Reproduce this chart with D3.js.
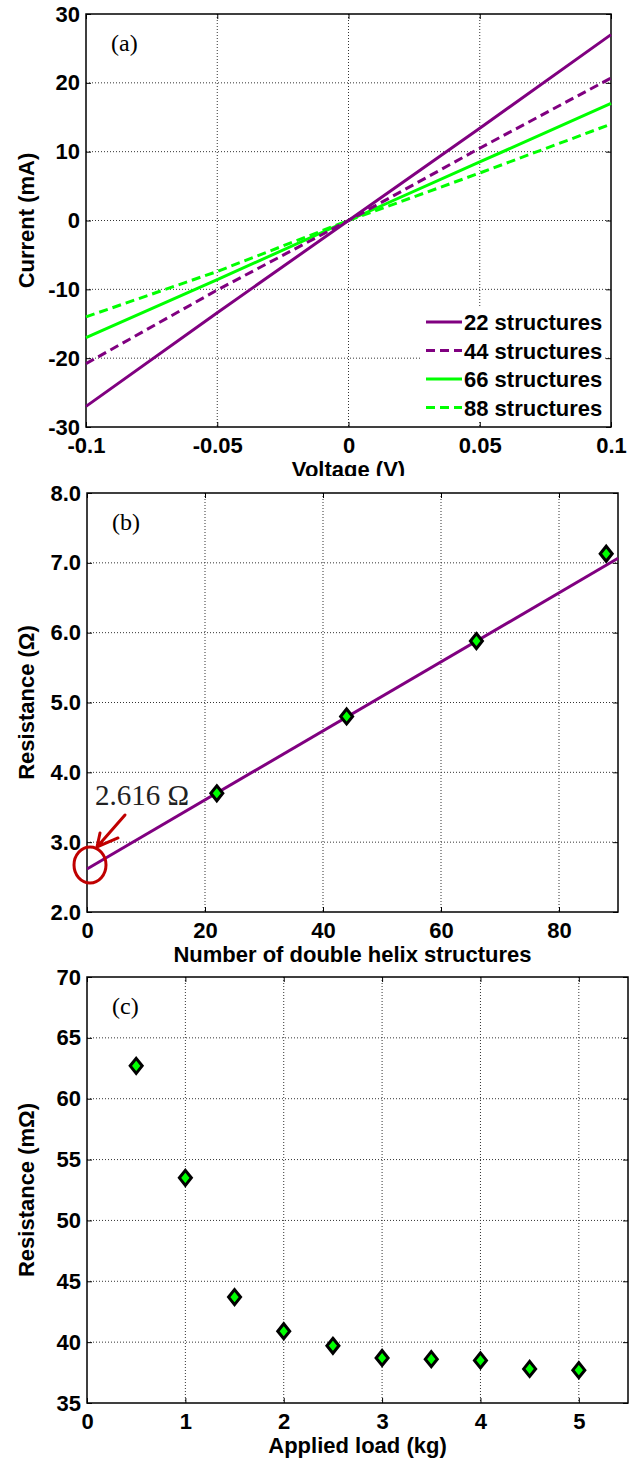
<!DOCTYPE html>
<html>
<head>
<meta charset="utf-8">
<script src="https://cdn.jsdelivr.net/npm/d3@7"></script>
<style>
  body { margin: 0; background: #fff; }
  text { font-family: "Liberation Sans", Arial, sans-serif; font-weight: bold; }
  .tag { font-family: "Liberation Serif", "Times New Roman", serif; font-weight: normal; }
</style>
</head>
<body>
<div id="chart"></div>
<script>
// panel (a): I-V curves
const voltage = [-0.1, -0.05, 0, 0.05, 0.1];
const cur22 = [-27.0, -13.4, 0, 13.4, 27.0];
const cur44 = [-20.8, -10.1, 0, 10.5, 20.7];
const cur66 = [-17.0, -8.6, 0, 8.5, 17.0];
const cur88 = [-14.0, -7.4, 0, 6.9, 14.0];
const seriesNames = ["22 structures", "44 structures", "66 structures", "88 structures"];
const voltTicks = [-0.1, -0.05, 0, 0.05, 0.1];
const curTicks = [-30, -20, -10, 0, 10, 20, 30];

// panel (b): resistance vs number of structures
const structures = [22, 44, 66, 88];
const resist = [3.70, 4.80, 5.88, 7.13];
const fitX = [0, 90];
const fitY = [2.616, 7.065];
const structTicks = [0, 20, 40, 60, 80];
const resTicks = [2, 3, 4, 5, 6, 7, 8];

// panel (c): resistance vs applied load
const load = [0.5, 1.0, 1.5, 2.0, 2.5, 3.0, 3.5, 4.0, 4.5, 5.0];
const loadRes = [62.7, 53.5, 43.7, 40.9, 39.7, 38.7, 38.6, 38.5, 37.8, 37.7];
const loadTicks = [0, 1, 2, 3, 4, 5];
const mresTicks = [35, 40, 45, 50, 55, 60, 65, 70];

const PURPLE = "#800080", GREEN = "#00ff00", RED = "#c00000";

const svg = d3.select("#chart").append("svg")
    .attr("width", 629)
    .attr("height", 1462);

svg.append("defs").append("clipPath").attr("id", "cutA")
  .append("rect").attr("x", 0).attr("y", 0).attr("width", 629).attr("height", 476);

function panel(cfg) {
    const { left, top, width, height } = cfg;
    const x = d3.scaleLinear().domain(cfg.xDomain).range([0, width]);
    const y = d3.scaleLinear().domain(cfg.yDomain).range([height, 0]);
    const g = svg.append("g").attr("transform", `translate(${left},${top})`);

    // dotted grid
    g.append("g").selectAll("line")
      .data(cfg.xTicks.filter(d => x(d) > 1 && x(d) < width - 1))
      .join("line")
        .attr("x1", d => x(d)).attr("x2", d => x(d))
        .attr("y1", 0).attr("y2", height)
        .attr("stroke", "#333").attr("stroke-width", 1).attr("stroke-dasharray", "1,2");
    g.append("g").selectAll("line")
      .data(cfg.yTicks.filter(d => y(d) > 1 && y(d) < height - 1))
      .join("line")
        .attr("x1", 0).attr("x2", width)
        .attr("y1", d => y(d)).attr("y2", d => y(d))
        .attr("stroke", "#333").attr("stroke-width", 1).attr("stroke-dasharray", "1,2");

    const fmtY = cfg.yFormat || (d => String(d));
    const bottom = g.append("g").attr("transform", `translate(0,${height})`)
        .call(d3.axisBottom(x).tickValues(cfg.xTicks).tickSize(-5).tickPadding(10).tickFormat(d => String(d)));
    const leftAx = g.append("g")
        .call(d3.axisLeft(y).tickValues(cfg.yTicks).tickSize(-5).tickPadding(6).tickFormat(fmtY));
    g.append("g").call(d3.axisTop(x).tickValues(cfg.xTicks).tickSize(-5).tickFormat(""));
    g.append("g").attr("transform", `translate(${width},0)`)
        .call(d3.axisRight(y).tickValues(cfg.yTicks).tickSize(-5).tickFormat(""));
    g.selectAll(".domain").remove();
    g.selectAll(".tick line").attr("stroke", "#000");
    [bottom, leftAx].forEach(a => a.selectAll("text")
        .attr("font-size", 22).attr("fill", "#000")
        .attr("font-family", "Liberation Sans, Arial, sans-serif").attr("font-weight", "bold"));

    g.append("rect").attr("width", width).attr("height", height)
        .attr("fill", "none").attr("stroke", "#000").attr("stroke-width", 1.5);

    // titles
    const xt = svg.append("text")
        .attr("x", left + width / 2).attr("y", top + height + 50)
        .attr("text-anchor", "middle").attr("font-size", 22)
        .text(cfg.xLabel);
    if (cfg.clip) xt.attr("clip-path", `url(#${cfg.clip})`);
    svg.append("text")
        .attr("transform", `translate(34,${top + height / 2}) rotate(-90)`)
        .attr("text-anchor", "middle").attr("font-size", 22)
        .text(cfg.yLabel);
    g.append("text").attr("class", "tag")
        .attr("x", 25).attr("y", 37).attr("font-size", 24)
        .text(cfg.tag);

    return { g, x, y };
}

function diamond(g, x, y, xs, ys) {
    g.selectAll(".pt").data(xs.map((d, i) => [d, ys[i]]))
      .join("path")
        .attr("class", "pt")
        .attr("transform", d => `translate(${x(d[0])},${y(d[1])})`)
        .attr("d", "M0,-7.5L6,0L0,7.5L-6,0Z")
        .attr("fill", GREEN).attr("stroke", "#000").attr("stroke-width", 3)
        .attr("stroke-linejoin", "miter");
}

// ---- (a)
const A = panel({
    left: 86, top: 14, width: 525, height: 413,
    xDomain: [-0.1, 0.1], yDomain: [-30, 30],
    xTicks: voltTicks, yTicks: curTicks,
    xLabel: "Voltage (V)", yLabel: "Current (mA)", tag: "(a)", clip: "cutA"
});
const series = [
    { vals: cur22, color: PURPLE, dash: null },
    { vals: cur44, color: PURPLE, dash: "9,5" },
    { vals: cur66, color: GREEN, dash: null },
    { vals: cur88, color: GREEN, dash: "9,5" }
];
const ivLine = d3.line().x(d => A.x(d[0])).y(d => A.y(d[1]));
series.slice().reverse().forEach(s => {
    A.g.append("path")
        .attr("d", ivLine(voltage.map((v, i) => [v, s.vals[i]])))
        .attr("fill", "none").attr("stroke", s.color).attr("stroke-width", 3)
        .attr("stroke-dasharray", s.dash);
});
const leg = A.g.append("g").attr("transform", "translate(335,294)");
leg.append("rect").attr("x", 0).attr("y", 0).attr("width", 184).attr("height", 113).attr("fill", "#fff");
series.forEach((s, i) => {
    const cy = 14 + i * 28.5;
    leg.append("line").attr("x1", 5).attr("x2", 41).attr("y1", cy).attr("y2", cy)
        .attr("stroke", s.color).attr("stroke-width", 3).attr("stroke-dasharray", s.dash);
    leg.append("text").attr("x", 43).attr("y", cy + 8).attr("font-size", 22)
        .text(seriesNames[i]);
});

// ---- (b)
const B = panel({
    left: 87, top: 493, width: 531, height: 419,
    xDomain: [0, 90], yDomain: [2, 8],
    xTicks: structTicks, yTicks: resTicks,
    xLabel: "Number of double helix structures", yLabel: "Resistance (\u03A9)", tag: "(b)",
    yFormat: d3.format(".1f")
});
B.g.append("path")
    .attr("d", d3.line().x(d => B.x(d[0])).y(d => B.y(d[1]))(fitX.map((v, i) => [v, fitY[i]])))
    .attr("fill", "none").attr("stroke", PURPLE).attr("stroke-width", 3);
diamond(B.g, B.x, B.y, structures, resist);

// annotation for the intercept
const ix = B.x(fitX[0]), iy = B.y(fitY[0]);
B.g.append("ellipse").attr("cx", ix + 3).attr("cy", iy - 4).attr("rx", 16).attr("ry", 18)
    .attr("fill", "none").attr("stroke", RED).attr("stroke-width", 3);
B.g.append("path")
    .attr("d", `M${ix + 38},${iy - 54}L${ix + 10},${iy - 22}M${ix + 13},${iy - 36}L${ix + 10},${iy - 22}L${ix + 31},${iy - 31}`)
    .attr("fill", "none").attr("stroke", RED).attr("stroke-width", 3).attr("stroke-linecap", "round");
B.g.append("text").attr("class", "tag")
    .attr("x", ix + 8).attr("y", iy - 64).attr("font-size", 29).attr("fill", "#222")
    .text(fitY[0].toFixed(3) + " \u03A9");

// ---- (c)
const C = panel({
    left: 87, top: 977, width: 541, height: 426,
    xDomain: [0, 5.5], yDomain: [35, 70],
    xTicks: loadTicks, yTicks: mresTicks,
    xLabel: "Applied load (kg)", yLabel: "Resistance (m\u03A9)", tag: "(c)"
});
diamond(C.g, C.x, C.y, load, loadRes);
</script>
</body>
</html>
